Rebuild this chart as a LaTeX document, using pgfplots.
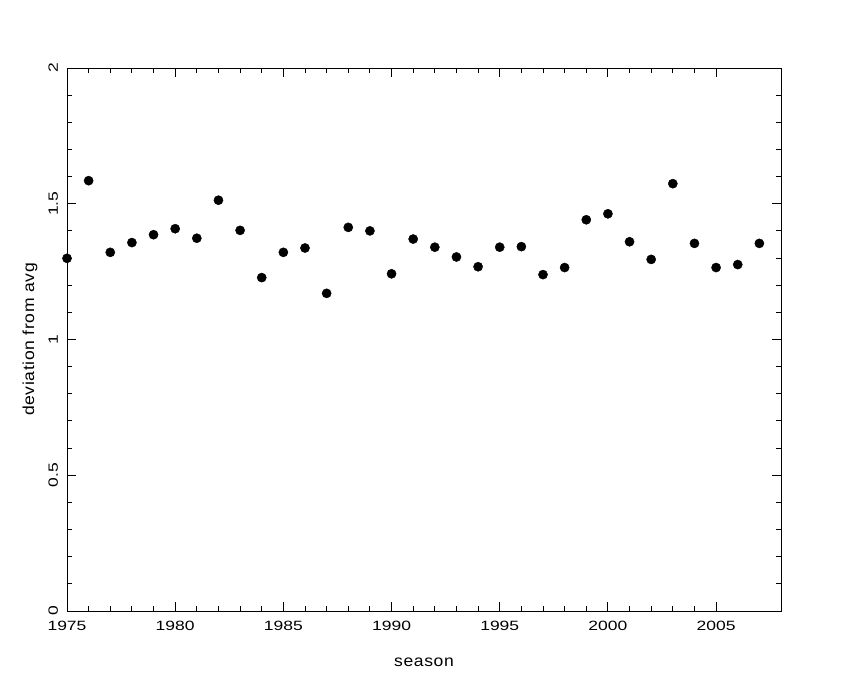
\documentclass[border=0pt]{standalone}
\usepackage{pgfplots}
\pgfplotsset{compat=1.18}
\usepackage{fontspec}
\setmainfont{Liberation Sans}
\newfontfamily\tickfont[FakeStretch=1.3]{Liberation Sans}
\newfontfamily\labfont[FakeStretch=1.1,LetterSpace=4]{Liberation Sans}
\begin{document}
\begin{tikzpicture}
\path[use as bounding box] (0,0) rectangle (850bp,680bp);
\begin{axis}[
  at={(67bp,69bp)}, anchor=south west,
  scale only axis, width=714bp, height=543bp,
  xmin=1975, xmax=2008, ymin=0, ymax=2,
  xtick={1975,1980,...,2005}, minor x tick num=4,
  ytick={0,0.5,1,1.5,2}, minor y tick num=4,
  tick align=inside,
  major tick length=9bp, minor tick length=5bp,
  axis line style={line width=0.9bp},
  every tick/.style={line width=0.9bp, black},
  /pgf/number format/assume math mode=true,
  /pgf/number format/1000 sep={},
  tick label style={font=\tickfont\fontsize{13.5}{16}\selectfont},
  label style={font=\labfont\fontsize{16}{19}\selectfont},
  xticklabel style={yshift=-6.5bp},
  yticklabel style={xshift=-5.5bp, rotate=90, anchor=south},
  xlabel={season}, ylabel={deviation from avg},
  xlabel style={at={(axis description cs:0.5,0)}, anchor=center, yshift=-51bp},
  ylabel style={at={(axis description cs:0,0.5)}, anchor=center, yshift=37bp},
  clip=false,
]
\addplot[only marks, mark=*, mark size=4.6bp, black] coordinates {
(1975,1.299) (1976,1.585) (1977,1.321) (1978,1.357) (1979,1.386)
(1980,1.408) (1981,1.373) (1982,1.513) (1983,1.402) (1984,1.228)
(1985,1.321) (1986,1.337) (1987,1.170) (1988,1.413) (1989,1.400)
(1990,1.242) (1991,1.370) (1992,1.340) (1993,1.304) (1994,1.268)
(1995,1.340) (1996,1.342) (1997,1.239) (1998,1.265) (1999,1.441)
(2000,1.463) (2001,1.360) (2002,1.295) (2003,1.574) (2004,1.354)
(2005,1.265) (2006,1.276) (2007,1.354)
};
\end{axis}
\end{tikzpicture}
\end{document}
